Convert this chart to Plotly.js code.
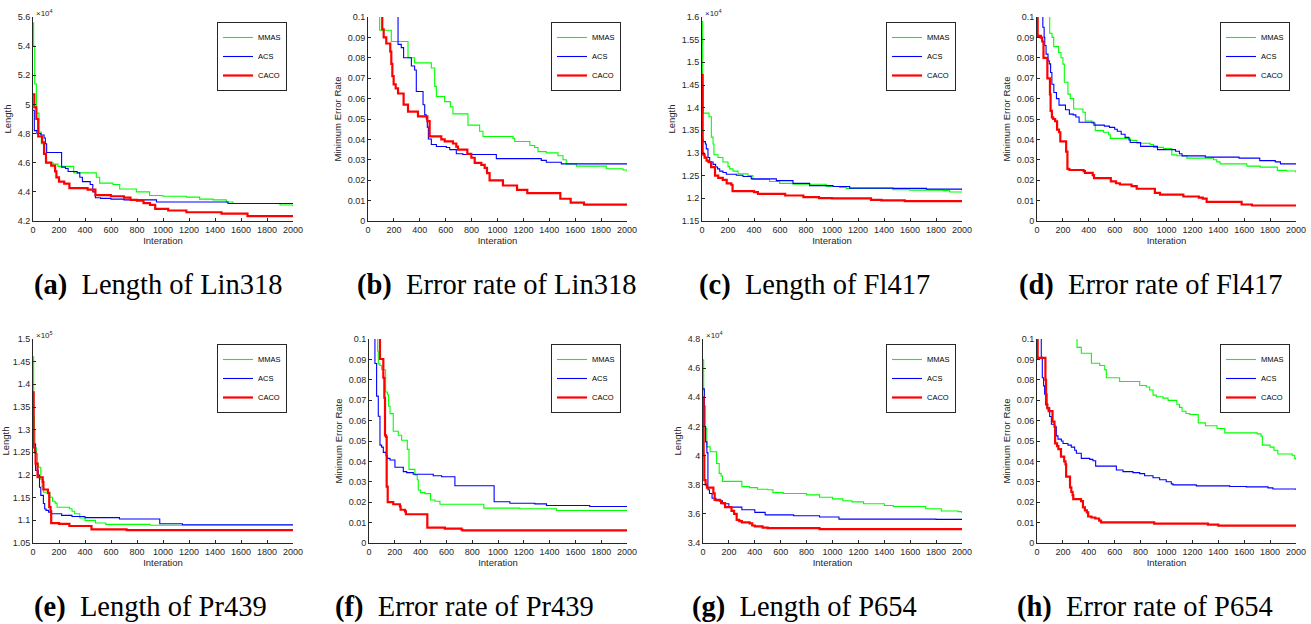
<!DOCTYPE html>
<html>
<head>
<meta charset="utf-8">
<script src="https://cdn.plot.ly/plotly-3.0.1.min.js"></script>
<style>html,body{margin:0;padding:0;background:#fff}#chart{width:1311px;height:624px}</style>
</head>
<body>
<div id="chart"></div>
<script>
// ---------- DATA ----------
var seriesNames = ["MMAS", "ACS", "CACO"];

// (a) Length of Lin318 (x10^4)
var aMmasX = [0,5,13,26,46,64,90,103,154,192,313,487,513,615,667,795,897,1000,1180,1282,1385,1487,1538,1900,2000];
var aMmasY = [5.56,5.40,5.14,4.94,4.81,4.73,4.66,4.60,4.59,4.575,4.53,4.50,4.46,4.45,4.42,4.40,4.375,4.37,4.364,4.35,4.345,4.33,4.32,4.31,4.30];
var aAcsX = [0,10,30,60,85,95,105,220,250,270,340,360,380,440,460,480,520,600,700,950,1500,2000];
var aAcsY = [4.96,4.82,4.80,4.79,4.77,4.73,4.67,4.57,4.56,4.54,4.53,4.50,4.47,4.45,4.40,4.36,4.355,4.35,4.345,4.33,4.32,4.32];
var aCacoX = [0,10,26,40,70,85,100,140,170,180,200,240,280,420,480,600,700,750,800,850,900,940,1040,1180,1450,1650,2000];
var aCacoY = [5.07,4.98,4.90,4.78,4.74,4.66,4.60,4.58,4.54,4.50,4.47,4.456,4.425,4.415,4.378,4.37,4.36,4.345,4.34,4.323,4.31,4.283,4.272,4.26,4.25,4.234,4.234];

// (b) Error rate of Lin318
var bMmasX = [80,90,180,309,360,489,515,528,592,636,656,772,862,888,1120,1133,1250,1287,1313,1377,1467,1506,1531,1609,1840,1969,2000];
var bMmasY = [0.11,0.0935,0.088,0.080,0.0775,0.075,0.066,0.061,0.0585,0.056,0.0525,0.047,0.044,0.0414,0.0405,0.039,0.037,0.036,0.034,0.0334,0.032,0.030,0.028,0.0269,0.0256,0.025,0.0243];
var bAcsX = [219,232,257,275,335,360,373,425,438,450,458,466,489,528,605,631,682,733,991,1338,1377,1493,2000];
var bAcsY = [0.11,0.0866,0.085,0.080,0.076,0.074,0.0635,0.057,0.052,0.050,0.046,0.0402,0.0375,0.0365,0.036,0.035,0.033,0.0326,0.0306,0.0297,0.0288,0.028,0.028];
var bCacoX = [100,110,121,141,172,180,188,198,214,232,275,309,386,458,476,566,592,656,682,695,767,798,824,875,901,919,939,1042,1151,1230,1485,1565,1668,2000];
var bCacoY = [0.11,0.094,0.090,0.087,0.083,0.077,0.071,0.067,0.065,0.0625,0.057,0.0536,0.0513,0.049,0.0415,0.040,0.039,0.038,0.0365,0.035,0.0329,0.031,0.0285,0.0275,0.026,0.0235,0.0199,0.0174,0.0153,0.0137,0.0109,0.009,0.008,0.008];

// (c) Length of Fl417 (x10^4)
var cMmasX = [0,5,10,54,72,85,92,123,161,200,213,238,277,354,392,520,597,700,956,1059,1110,1469,1597,1854,1905,2000];
var cMmasY = [1.59,1.45,1.388,1.38,1.335,1.32,1.296,1.29,1.28,1.27,1.265,1.26,1.254,1.25,1.2415,1.237,1.233,1.231,1.226,1.224,1.222,1.219,1.218,1.217,1.214,1.2125];
var cAcsX = [0,3,8,26,33,46,59,85,105,120,136,161,187,264,315,379,572,700,828,1008,1136,1469,1726,2000];
var cAcsY = [1.39,1.33,1.325,1.32,1.309,1.29,1.28,1.275,1.269,1.265,1.26,1.257,1.253,1.251,1.248,1.243,1.239,1.233,1.228,1.226,1.2225,1.222,1.2203,1.218];
var cCacoX = [0,5,10,20,35,50,70,100,125,160,190,225,235,400,430,640,780,900,1000,1300,1380,1560,2000];
var cCacoY = [1.4725,1.30,1.2965,1.29,1.283,1.28,1.269,1.25,1.245,1.2407,1.233,1.23,1.216,1.2136,1.21,1.2063,1.2026,1.2004,1.2,1.1968,1.1953,1.1938,1.194];

// (d) Error rate of Fl417
var dMmasX = [90,98,116,129,167,185,200,211,239,257,283,355,373,424,450,514,553,566,720,771,874,900,977,1041,1080,1157,1363,1388,1414,1620,1723,1856,1928,2000];
var dMmasY = [0.11,0.092,0.090,0.0855,0.0826,0.080,0.0769,0.068,0.0622,0.060,0.0549,0.0533,0.049,0.048,0.0443,0.0435,0.0423,0.0405,0.0395,0.0381,0.0375,0.0361,0.0355,0.0324,0.032,0.0308,0.030,0.029,0.028,0.0269,0.0264,0.0248,0.0245,0.0236];
var dAcsX = [35,45,55,60,70,85,95,105,115,130,150,170,220,250,280,300,325,440,520,560,600,620,650,680,710,720,800,930,1070,1100,1120,1300,1560,1720,1840,1880,2000];
var dAcsY = [0.11,0.095,0.090,0.086,0.0818,0.0785,0.077,0.0728,0.067,0.063,0.060,0.0568,0.0545,0.0524,0.052,0.051,0.0484,0.047,0.0465,0.0459,0.045,0.044,0.0425,0.041,0.0397,0.0385,0.0366,0.035,0.0342,0.033,0.0319,0.0313,0.0308,0.0296,0.029,0.028,0.028];
var dCacoX = [0,5,30,40,50,80,100,105,115,125,140,155,170,180,225,235,250,360,370,430,440,570,610,640,730,770,910,950,1130,1250,1280,1310,1580,1660,2000];
var dCacoY = [0.1,0.0907,0.0899,0.088,0.080,0.0699,0.062,0.054,0.0508,0.050,0.0489,0.0448,0.0435,0.039,0.034,0.0256,0.025,0.0244,0.0236,0.0225,0.021,0.0194,0.0185,0.0179,0.0171,0.0158,0.0138,0.0129,0.012,0.0115,0.011,0.0094,0.0081,0.0076,0.0076];

// (e) Length of Pr439 (x10^5)
var eMmasX = [0,5,10,15,25,35,40,60,70,80,130,150,170,185,280,300,320,360,400,480,560,900,2000];
var eMmasY = [1.461,1.33,1.298,1.26,1.247,1.225,1.217,1.19,1.175,1.162,1.151,1.142,1.138,1.129,1.1256,1.12,1.1145,1.105,1.1,1.094,1.091,1.089,1.089];
var eAcsX = [0,20,40,50,60,80,90,100,120,140,220,300,400,665,975,1150,2000];
var eAcsY = [1.268,1.21,1.20,1.173,1.155,1.137,1.125,1.122,1.118,1.1145,1.111,1.1086,1.106,1.103,1.0925,1.0903,1.0903];
var eCacoX = [0,5,15,20,35,75,80,115,125,135,140,200,280,450,720,2000];
var eCacoY = [1.3825,1.261,1.25,1.225,1.195,1.185,1.168,1.16,1.129,1.12,1.094,1.092,1.0875,1.08,1.0785,1.0785];

// (f) Error rate of Pr439
var fMmasX = [59,67,72,85,98,129,142,152,163,188,227,253,297,310,356,374,382,400,434,477,511,550,890,1169,1453,2000];
var fMmasY = [0.11,0.094,0.0878,0.087,0.0849,0.074,0.0727,0.067,0.0634,0.0548,0.0528,0.0504,0.0459,0.0361,0.0333,0.031,0.026,0.0247,0.0242,0.0211,0.0205,0.019,0.0171,0.0168,0.0159,0.0159];
var fAcsX = [41,46,59,72,85,98,111,132,142,163,201,266,292,343,498,563,666,970,1092,1285,1376,1711,2000];
var fAcsY = [0.11,0.088,0.072,0.0621,0.048,0.047,0.0444,0.043,0.0415,0.0407,0.0371,0.035,0.0345,0.0337,0.033,0.0325,0.0281,0.0202,0.0195,0.0192,0.0184,0.0179,0.0179];
var fCacoX = [80,85,111,119,124,132,137,145,188,240,245,279,286,452,588,718,725,2000];
var fCacoY = [0.11,0.0902,0.081,0.0712,0.0528,0.052,0.0276,0.020,0.019,0.018,0.0163,0.0155,0.0141,0.0075,0.007,0.0065,0.0062,0.0062];

// (g) Length of P654 (x10^4)
var gMmasX = [0,5,10,20,30,55,105,125,140,150,300,360,420,500,540,620,800,900,1000,1080,1150,1240,1400,1470,1720,1840,1970,2000];
var gMmasY = [4.657,4.45,4.34,4.185,4.06,4.026,3.946,3.878,3.86,3.823,3.787,3.78,3.769,3.765,3.746,3.74,3.73,3.714,3.703,3.69,3.682,3.669,3.657,3.65,3.635,3.62,3.615,3.605];
var gAcsX = [0,10,20,30,38,50,70,100,150,200,300,400,480,700,900,1050,1800,2000];
var gAcsY = [4.458,4.2,4.094,4.02,3.765,3.74,3.707,3.69,3.669,3.646,3.628,3.61,3.593,3.587,3.578,3.564,3.562,3.557];
var gCacoX = [0,5,10,20,30,80,90,130,140,170,220,240,260,280,300,360,380,400,460,500,900,2000];
var gCacoY = [4.40,4.0,3.832,3.80,3.78,3.74,3.696,3.69,3.673,3.646,3.62,3.60,3.559,3.55,3.541,3.535,3.52,3.514,3.505,3.502,3.495,3.493];

// (h) Error rate of P654
var hMmasX = [295,309,342,420,484,523,535,638,793,844,870,896,921,973,1012,1080,1100,1120,1150,1180,1245,1300,1390,1450,1700,1730,1740,1800,1830,1860,1970,1990,2000];
var hMmasY = [0.105,0.0959,0.093,0.0881,0.087,0.085,0.081,0.0792,0.0772,0.0765,0.075,0.0725,0.0717,0.071,0.0699,0.068,0.0665,0.0646,0.0635,0.063,0.0589,0.0575,0.0561,0.054,0.0535,0.0524,0.048,0.047,0.0455,0.0436,0.043,0.0415,0.0407];
var hAcsX = [26,33,41,51,59,77,98,111,136,149,162,188,201,239,265,291,304,342,407,432,453,613,664,741,793,831,896,947,998,1037,1050,1230,1488,1616,1784,1822,2000];
var hAcsY = [0.11,0.091,0.081,0.077,0.073,0.0663,0.062,0.0582,0.057,0.0525,0.0509,0.050,0.0488,0.048,0.047,0.0455,0.044,0.0415,0.041,0.0403,0.0377,0.0358,0.035,0.0345,0.034,0.033,0.032,0.031,0.030,0.029,0.0285,0.028,0.0277,0.0275,0.027,0.0265,0.026];
var hCacoX = [0,5,65,70,80,90,120,135,140,155,165,185,210,220,225,255,265,275,280,340,355,370,385,395,420,450,480,495,905,1320,1400,2000];
var hCacoY = [0.11,0.0907,0.080,0.068,0.066,0.0646,0.0595,0.057,0.0488,0.0475,0.046,0.0423,0.040,0.0385,0.0325,0.0273,0.025,0.0235,0.0215,0.0205,0.0175,0.016,0.015,0.013,0.0125,0.012,0.011,0.0101,0.0095,0.009,0.0085,0.0083];

// ---------- PANELS ----------
var lengthTitle = "Length", errTitle = "Minimum Error Rate", xTitle = "Interation";
var panels = [
  {s:[[aMmasX,aMmasY],[aAcsX,aAcsY],[aCacoX,aCacoY]], yr:[4.2,5.6], dt:0.2, yt:lengthTitle, exp:"4", cap:"(a)", capText:"Length of Lin318", box:[33,293,17,221], capX:32},
  {s:[[bMmasX,bMmasY],[bAcsX,bAcsY],[bCacoX,bCacoY]], yr:[0,0.1], dt:0.01, yt:errTitle, exp:null, cap:"(b)", capText:"Error rate of Lin318", box:[368,627,17,221], capX:355},
  {s:[[cMmasX,cMmasY],[cAcsX,cAcsY],[cCacoX,cCacoY]], yr:[1.15,1.6], dt:0.05, yt:lengthTitle, exp:"4", cap:"(c)", capText:"Length of Fl417", box:[702,962,17,221], capX:697},
  {s:[[dMmasX,dMmasY],[dAcsX,dAcsY],[dCacoX,dCacoY]], yr:[0,0.1], dt:0.01, yt:errTitle, exp:null, cap:"(d)", capText:"Error rate of Fl417", box:[1037,1296,17,221], capX:1017},
  {s:[[eMmasX,eMmasY],[eAcsX,eAcsY],[eCacoX,eCacoY]], yr:[1.05,1.5], dt:0.05, yt:lengthTitle, exp:"5", cap:"(e)", capText:"Length of Pr439", box:[33,293,339,543], capX:32},
  {s:[[fMmasX,fMmasY],[fAcsX,fAcsY],[fCacoX,fCacoY]], yr:[0,0.1], dt:0.01, yt:errTitle, exp:null, cap:"(f)", capText:"Error rate of Pr439", box:[369,627,339,543], capX:333},
  {s:[[gMmasX,gMmasY],[gAcsX,gAcsY],[gCacoX,gCacoY]], yr:[3.4,4.8], dt:0.2, yt:lengthTitle, exp:"4", cap:"(g)", capText:"Length of P654", box:[703,962,339,543], capX:690},
  {s:[[hMmasX,hMmasY],[hAcsX,hAcsY],[hCacoX,hCacoY]], yr:[0,0.1], dt:0.01, yt:errTitle, exp:null, cap:"(h)", capText:"Error rate of P654", box:[1037,1296,339,543], capX:1015}
];

var W = 1311, H = 624;
var colors = ["#00ff00", "#0000ff", "#ff0000"];
var widths = [1.1, 1.1, 2.2];
var axisColor = "#262626";
var tickFont = {family: "Liberation Sans, Arial, sans-serif", size: 9, color: axisColor};

var traces = [];
var layout = {
  width: W, height: H,
  margin: {l: 0, r: 0, t: 0, b: 0},
  paper_bgcolor: "#ffffff", plot_bgcolor: "#ffffff",
  annotations: [],
  showlegend: true
};

panels.forEach(function(p, i) {
  var n = i + 1;
  var xa = n === 1 ? "x" : "x" + n, ya = n === 1 ? "y" : "y" + n;
  var lg = n === 1 ? "legend" : "legend" + n;
  p.s.forEach(function(sr, k) {
    traces.push({
      type: "scatter", mode: "lines", x: sr[0], y: sr[1], name: seriesNames[k],
      xaxis: xa, yaxis: ya, legend: lg,
      line: {color: colors[k], width: widths[k], shape: "hv"}
    });
  });
  var b = p.box;
  var common = {
    showline: true, linecolor: axisColor, linewidth: 1, mirror: false,
    showgrid: false, zeroline: false, ticks: "inside", ticklen: 3,
    tickcolor: axisColor, tickwidth: 1, tickfont: tickFont, automargin: false
  };
  layout[n === 1 ? "xaxis" : "xaxis" + n] = Object.assign({}, common, {
    domain: [b[0] / W, b[1] / W], anchor: ya, range: [0, 2000], tick0: 0, dtick: 200,
    title: {text: xTitle, font: {family: "Liberation Sans, Arial, sans-serif", size: 9.5, color: axisColor}, standoff: 2}
  });
  layout[n === 1 ? "yaxis" : "yaxis" + n] = Object.assign({}, common, {
    domain: [1 - b[3] / H, 1 - b[2] / H], anchor: xa, range: p.yr, tick0: p.yr[0], dtick: p.dt,
    title: {text: p.yt, font: {family: "Liberation Sans, Arial, sans-serif", size: 9.5, color: axisColor}, standoff: 4}
  });
  layout[lg] = {
    x: (b[1] - 6) / W, y: 1 - (b[2] + 5) / H, xanchor: "right", yanchor: "top",
    bgcolor: "#ffffff", bordercolor: axisColor, borderwidth: 1,
    font: {family: "Liberation Sans, Arial, sans-serif", size: 7.5, color: "#000"},
    itemwidth: 30, tracegroupgap: 0, traceorder: "normal"
  };
  if (p.exp) {
    layout.annotations.push({
      xref: xa + " domain", yref: ya + " domain", x: 0, y: 1, xanchor: "left", yanchor: "bottom",
      text: "\u00d710<sup>" + p.exp + "</sup>", showarrow: false,
      font: {family: "Liberation Sans, Arial, sans-serif", size: 8, color: axisColor}, xshift: 1, yshift: -3
    });
  }
  layout.annotations.push({
    xref: "paper", yref: "paper", x: p.capX / W, y: 1 - (b[3] + 64) / H,
    xanchor: "left", yanchor: "middle", showarrow: false,
    text: "<b>" + p.cap + "</b>\u00a0\u00a0" + p.capText,
    font: {family: "Liberation Serif, Times New Roman, serif", size: 28.5, color: "#000"}
  });
});

Plotly.newPlot("chart", traces, layout, {displayModeBar: false, staticPlot: true});
</script>
</body>
</html>
